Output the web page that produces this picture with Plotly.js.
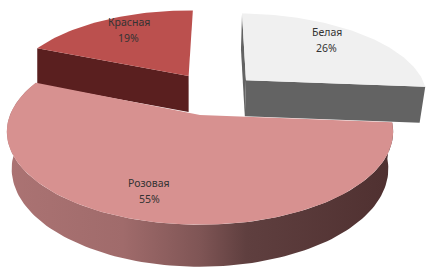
<!DOCTYPE html>
<html><head><meta charset="utf-8">
<script src="https://cdn.plot.ly/plotly-3.0.1.min.js"></script>
<style>html,body{margin:0;padding:0;background:#fff}</style></head>
<body><div id="chart" style="width:432px;height:273px"></div>
<script>
const categories = ["Белая", "Розовая", "Красная"];
const shares = [26, 55, 19];
const topColors = ["#f0f0f0", "#d79190", "#bb504e"];
const cutColors = ["#636363", "#7a4f4f", "#5a1f1f"];
const explodeX = [0.26, 0, -0.065];
const explodeY = [-0.414, 0, -0.47];
const depthInset = [0.975, 0.975, 1];
const labelTurn = [-5, 4, 3];

const W = 432, H = 273, cx = 200, cy = 115, R = 190, Ry = 90, k = 0.18;
const rotation = 1;

function project(X, Y) {
  const w = 1 - k * Y;
  return [cx + R * X / w, cy + Ry * Y / w, w];
}
function lower(p, inset) {
  const d = 36 + 33 * Math.max(0, 1 - p[2]);
  return [cx + (p[0] - cx) * inset, p[1] + d];
}
const total = shares.reduce((a, b) => a + b, 0);
let cum = 0;
const slices = shares.map((v, i) => {
  const a0 = -90 + rotation + cum / total * 360;
  cum += v;
  const a1 = -90 + rotation + cum / total * 360;
  const rim = [];
  const n = Math.max(8, Math.round((a1 - a0) / 1.5));
  for (let j = 0; j <= n; j++) {
    const t = (a0 + (a1 - a0) * j / n) * Math.PI / 180;
    rim.push(project(explodeX[i] + Math.cos(t), explodeY[i] + Math.sin(t)));
  }
  return { i, a0, a1, rim, apex: project(explodeX[i], explodeY[i]) };
});
function poly(pts, extra) {
  return Object.assign({
    type: "scatter", mode: "lines", x: pts.map(p => p[0]), y: pts.map(p => p[1]),
    line: { width: 0 }, fill: "toself", hoverinfo: "skip", showlegend: false
  }, extra);
}
function topFace(s) {
  return poly([s.apex, ...s.rim, s.apex], { fillcolor: topColors[s.i] });
}
function cutFace(s, edge) {
  const ins = depthInset[s.i];
  return poly([s.apex, edge, lower(edge, ins), lower(s.apex, ins), s.apex], { fillcolor: cutColors[s.i] });
}
const [white, pink, red] = slices;
const rimBottom = pink.rim.map(p => lower(p, depthInset[1])).reverse();
const traces = [
  cutFace(red, red.rim[0]),
  topFace(red),
  cutFace(white, white.rim[0]),
  cutFace(white, white.rim[white.rim.length - 1]),
  topFace(white),
  poly([...pink.rim, ...rimBottom, pink.rim[0]], {
    fillcolor: "#7a4f4f",
    fillgradient: {
      type: "horizontal",
      colorscale: [[0, "#ab7373"], [0.3, "#a06b6b"], [0.5, "#7f5555"], [0.62, "#5f3f3f"], [1, "#4f3030"]]
    }
  }),
  topFace(pink)
];
const annotations = slices.flatMap(s => {
  const mid = ((s.a0 + s.a1) / 2 + labelTurn[s.i]) * Math.PI / 180;
  const p = project(explodeX[s.i] + 0.77 * Math.cos(mid), explodeY[s.i] + 0.77 * Math.sin(mid));
  const base = {
    x: p[0], y: p[1], xref: "x", yref: "y", showarrow: false,
    font: { family: "Noto Sans, Liberation Sans, sans-serif", size: 10.5, color: "#333333" }
  };
  return [
    Object.assign({}, base, { text: categories[s.i], yshift: 8 }),
    Object.assign({}, base, { text: shares[s.i] + "%", yshift: -8 })
  ];
});
Plotly.newPlot("chart", traces, {
  width: W, height: H, margin: { l: 0, r: 0, t: 0, b: 0 },
  paper_bgcolor: "#fff", plot_bgcolor: "#fff", showlegend: false,
  xaxis: { range: [0, W], visible: false, fixedrange: true },
  yaxis: { range: [H, 0], visible: false, fixedrange: true },
  annotations
}, { displayModeBar: false, staticPlot: true });
</script></body></html>
